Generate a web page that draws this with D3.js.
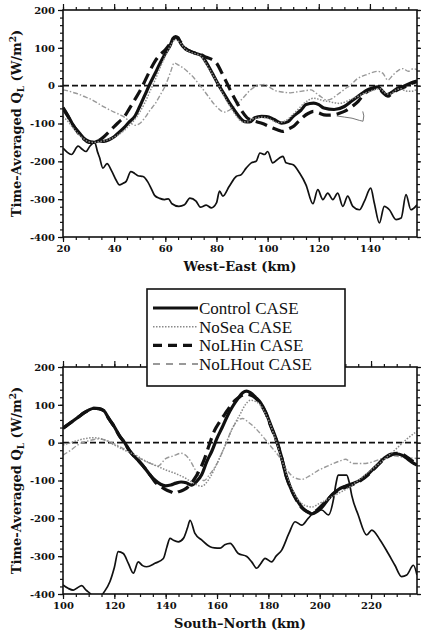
<!DOCTYPE html>
<html>
<head>
<meta charset="utf-8">
<title>time-averaged QL, west-east and south-north</title>
<script src="https://cdn.jsdelivr.net/npm/d3@7/dist/d3.min.js"></script>
<style>
    body { margin: 0; background: #fff; }
    .tick text { font-family: "DejaVu Serif", serif; font-weight: bold; font-size: 10px; fill: #111; }
    .tick line { stroke: #111; stroke-width: 1.2; }
    .lab { font-family: "DejaVu Serif", serif; font-weight: bold; font-size: 13px; fill: #111; text-anchor: middle; }
    .leg { font-family: "Liberation Serif", serif; font-size: 17px; fill: #111; }
</style>
</head>
<body>
<script>
// ---- West-East panel (km, W/m2) ----
var weControl = [[20,-58],[22,-80],[24,-105],[26,-122],[28,-138],[30,-147],[32,-150],[34,-146],[36,-147],[38,-143],[40,-135],[42,-123],[44,-110],[46,-95],[48,-82],[50,-55],[52,-25],[54,5],[56,32],[58,60],[60,85],[62,108],[63,125],[64,130],[65,127],[66,112],[68,96],[70,90],[72,85],[74,80],[75,72],[77,50],[79,25],[81,0],[83,-22],[85,-45],[87,-65],[89,-83],[91,-95],[93,-96],[95,-85],[97.6,-81],[99.5,-82],[101.5,-86],[103.5,-93],[105.4,-99],[108,-95],[110,-81],[113,-65],[115,-50],[118,-46],[120,-50],[122,-59],[126,-63],[130,-55],[133,-40],[135.4,-28],[137,-20],[139,-11],[141,-6],[143,-3],[145,-15],[146.5,-24],[148.5,-18],[151,-6],[153,-2],[156,7],[158.4,12]];
var weNoSea = [[20,-82],[22,-95],[24,-112],[26,-128],[28,-140],[30,-148],[32,-150],[34,-148],[36,-146],[38,-142],[40,-136],[42,-128],[44,-118],[46,-104],[48,-90],[50,-70],[52,-45],[54,-15],[56,15],[58,48],[60,78],[62,105],[64,122],[66,112],[68,96],[70,88],[72,84],[74,78],[76,58],[78,35],[80,12],[82,-15],[84,-40],[86,-62],[88,-82],[90,-95],[92,-96],[94,-88],[96,-85],[98,-83],[100,-86],[102,-92],[104,-98],[106,-96],[108,-88],[110,-76],[112,-62],[114,-48],[116,-38],[118,-33],[120,-36],[122,-40],[124,-42],[126,-45],[128,-47],[130,-44],[132,-38],[134,-32],[136,-26],[138,-20],[140,-15],[142,-10],[144,-8],[146,-20],[148,-22],[150,-12],[152,-8],[154,-14],[156,-15],[158.4,-10]];
var weNoLHin = [[20,-60],[22,-82],[24,-105],[26,-125],[28,-140],[30,-150],[32,-150],[34,-145],[36,-135],[38,-122],[40,-108],[42,-95],[44,-82],[46,-60],[48,-38],[50,-15],[52,12],[54,40],[56,65],[58,82],[60,95],[62,112],[64,128],[66,115],[68,98],[70,90],[72,86],[74,82],[76,75],[78,70],[80,60],[82,35],[84,8],[86,-20],[88,-45],[90,-68],[92,-85],[94,-92],[96,-96],[98,-100],[100,-106],[102,-112],[104,-117],[106,-121],[108,-115],[110,-108],[112,-95],[114,-82],[116,-73],[118,-68],[120,-72],[122,-77],[124,-78],[126,-77],[128,-73],[130,-68],[133,-55],[135.5,-41],[137,-28],[139,-15],[141,-9],[143,-6],[145,-18],[147,-28],[149,-18],[151,-10],[153,-5],[156,5],[158.4,11]];
var weNoLHout = [[20,-11],[22,-14],[24,-18],[26,-22],[28,-28],[30,-33],[32,-40],[34,-48],[36,-56],[38,-63],[40,-70],[42,-76],[44,-83],[46,-95],[48,-105],[50,-100],[52,-85],[54,-65],[56,-48],[58,-25],[60,0],[62,35],[63.5,60],[65,55],[67,47],[69,35],[71,22],[73,5],[75,-12],[77,-30],[79,-48],[81,-62],[83,-70],[85,-65],[87,-55],[89,-42],[91,-28],[93,-13],[95,-3],[97,2],[99,3],[101,-5],[103,-13],[105,-16],[107,-18],[109,-19],[111,-17],[113,-15],[115,-13],[117,-11],[119,-20],[121,-30],[123,-38],[125,-35],[127,-25],[129,-15],[131,-5],[133,5],[135,18],[137,25],[139,30],[141,35],[143,38],[145,33],[147,15],[149,28],[151,40],[153,45],[155,38],[157,45],[158.4,42]];
var weStub = [[127,-80],[130,-83],[133,-86],[136,-92],[137.3,-94],[137.6,-80],[137.2,-68]];
var weBelow = [[20,-165],[21.5,-175],[23.3,-182],[25.9,-160],[27.5,-168],[29,-174],[30.5,-160],[32.4,-150],[33.5,-175],[34.3,-190],[35.6,-218],[37.2,-206],[39,-225],[40.8,-250],[42,-262],[43.5,-258],[44.7,-253],[46.5,-227],[48,-232],[49.3,-238],[51.3,-240],[53.2,-255],[54.5,-272],[55.8,-290],[57.8,-298],[59.7,-301],[61.2,-299],[62.6,-312],[65.3,-319],[67.5,-315],[69.6,-297],[72,-305],[73.7,-321],[76,-316],[78,-323],[80,-310],[81.2,-279],[82.5,-292],[85,-266],[87.7,-240],[89.7,-235],[91.6,-218],[93.6,-204],[95.5,-200],[97,-178],[98.8,-182],[100,-174],[102,-204],[104.6,-191],[106,-187],[107.2,-204],[110,-209],[112.5,-231],[115,-262],[117.7,-312],[119.6,-275],[121.6,-301],[123.5,-284],[125.5,-301],[127.4,-284],[129.4,-319],[131.3,-292],[133.3,-319],[135.9,-328],[137.8,-306],[140.3,-271],[141.7,-310],[143.7,-363],[145.6,-319],[147.6,-328],[150.2,-354],[152.2,-350],[154.1,-288],[156,-328],[158.4,-315]];

// ---- South-North panel (km, W/m2) ----
var snControl = [[100,38],[102,48],[104,58],[106,68],[108,78],[110,86],[112,91],[114,90],[116,84],[118,62],[120,42],[122,18],[124,0],[126,-22],[128,-38],[130,-52],[132,-68],[134,-86],[136,-100],[138,-110],[140,-114],[142,-112],[144,-107],[146,-104],[148,-106],[150,-112],[152,-103],[154,-85],[156,-50],[158,-22],[160,12],[162,40],[164,70],[166,95],[168,115],[170,132],[171.5,136],[173,132],[175,120],[177,105],[179,80],[181,45],[183,10],[185,-35],[187,-90],[189,-125],[191,-150],[193,-170],[195,-182],[197,-188],[199,-182],[201,-170],[203,-152],[205,-136],[207,-125],[210,-115],[213,-108],[216,-98],[219,-82],[222,-62],[225,-42],[228,-30],[230,-30],[232,-33],[234,-42],[236,-52],[237.9,-59]];
var snNoSea = [[100,-6],[104,2],[108,10],[112,13],[116,8],[120,-6],[124,-20],[128,-32],[132,-48],[136,-60],[140,-72],[144,-82],[148,-95],[151,-108],[154,-115],[157,-95],[160,-55],[163,-10],[166,38],[169,75],[171,100],[173,112],[176,105],[179,75],[182,25],[185,-40],[188,-100],[191,-145],[194,-165],[197,-170],[200,-160],[203,-150],[207,-135],[211,-120],[215,-100],[220,-72],[225,-45],[230,-15],[234,10],[237.9,30]];
var snNoLHin = [[100,38],[102,48],[104,58],[106,68],[108,78],[110,86],[112,91],[114,90],[116,84],[118,62],[120,42],[122,18],[124,0],[126,-22],[128,-38],[130,-52],[132,-68],[134,-86],[136,-105],[138,-115],[140,-124],[142,-130],[143.6,-134],[145,-130],[147,-125],[149,-115],[151,-98],[153,-75],[155,-45],[157,-5],[159,32],[161,55],[163,75],[165,95],[167,112],[169,122],[171,128],[173,126],[175,118],[177,102],[179,78],[181,42],[183,8],[185,-35],[187,-88],[189,-125],[191,-152],[193,-172],[195,-182],[197,-186],[199,-178],[201,-165],[203,-150],[205,-138],[207,-127],[210,-118],[213,-110],[216,-100],[219,-84],[222,-64],[225,-44],[228,-32],[230,-28],[232,-30],[234,-38],[236,-48],[237.9,-55]];
var snNoLHout = [[100,-33],[103,-20],[106,-5],[110,5],[114,10],[118,3],[122,-10],[126,-25],[130,-42],[134,-55],[137,-62],[140,-42],[143,-35],[146,-28],[149,-42],[151,-65],[153,-90],[155,-100],[157,-85],[160,-55],[163,-10],[166,38],[168,58],[170,64],[172,55],[175,38],[178,15],[181,-10],[184,-35],[187,-70],[190,-92],[193,-97],[196,-88],[199,-75],[202,-65],[205,-56],[208,-48],[210,-44],[213,-55],[217,-55],[220,-52],[223,-45],[226,-38],[229,-35],[232,-38],[235,-40],[237.9,-42]];
var snBelow = [[100,-376],[102,-385],[104,-390],[105.5,-384],[107.3,-378],[109,-390],[110.5,-398],[112,-410],[114,-410],[116,-395],[118.3,-367],[120,-330],[121.5,-288],[123.5,-293],[125.5,-320],[127.4,-345],[129.3,-315],[131,-325],[132.6,-328],[135.8,-319],[139.1,-306],[140.5,-275],[141.7,-253],[143,-258],[144.9,-262],[146.9,-253],[148.5,-225],[149.5,-205],[151.4,-240],[154,-257],[157.3,-275],[159,-278],[161.2,-279],[163,-270],[165.1,-266],[168.3,-293],[171.6,-301],[173.5,-315],[175.5,-332],[177,-320],[178.7,-306],[181.3,-315],[183,-300],[185.2,-284],[188,-240],[190.4,-209],[193,-218],[195.5,-200],[198.2,-182],[200.8,-178],[203.4,-191],[205.3,-152],[206.3,-110],[207.2,-86],[210.5,-86],[211.5,-105],[212.5,-140],[215,-191],[218.3,-244],[220.3,-231],[223.5,-257],[226.7,-293],[229.3,-324],[231.9,-354],[233.9,-350],[236.5,-324],[237.9,-350]];

var yMajor = [200, 100, 0, -100, -200, -300, -400];
var weTicks = [20, 40, 60, 80, 100, 120, 140];
var snTicks = [100, 120, 140, 160, 180, 200, 220];
var legendNames = ['Control CASE', 'NoSea CASE', 'NoLHin CASE', 'NoLHout CASE'];

var styles = {
    control: { color: '#111', width: 3.2, dash: null },
    noSea:   { color: '#8a8a8a', width: 1.5, dash: '1.5,1.5' },
    noLHin:  { color: '#111', width: 3.2, dash: '12,6' },
    noLHout: { color: '#999', width: 1.4, dash: '5,2,1.5,2' },
    below:   { color: '#111', width: 1.7, dash: null },
    stub:    { color: '#777', width: 1, dash: null }
};

var svg = d3.select('body').append('svg')
    .attr('width', 421)
    .attr('height', 631);

function panel(p) {
    var x = d3.scaleLinear().domain(p.xdom).range([63, 417]);
    var y = d3.scaleLinear().domain([-400, 200]).range([p.bottom, p.top]);
    var g = svg.append('g');

    var clipId = 'clip' + p.id;
    g.append('clipPath').attr('id', clipId)
        .append('rect')
        .attr('x', 63).attr('y', p.top)
        .attr('width', 354).attr('height', p.bottom - p.top);

    var minorX = d3.range(p.xdom[0], p.xdom[1], 5);
    var minorY = d3.range(-400, 201, 20);

    function ax(gen, scale, vals, size, labels, tr) {
        var a = gen(scale).tickValues(vals).tickSize(size).tickSizeOuter(0).tickPadding(3);
        if (labels) a.tickFormat(function(d) { return String(d); });
        else a.tickFormat('');
        var s = g.append('g').attr('transform', tr).call(a);
        s.select('.domain').remove();
        return s;
    }
    // minor + major ticks, outward on all four sides
    ax(d3.axisLeft, y, minorY, 3, false, 'translate(63,0)');
    ax(d3.axisLeft, y, yMajor, 5, true, 'translate(63,0)');
    ax(d3.axisRight, y, minorY, 3, false, 'translate(417,0)');
    ax(d3.axisRight, y, yMajor, 5, false, 'translate(417,0)');
    ax(d3.axisTop, x, minorX, 3, false, 'translate(0,' + p.top + ')');
    ax(d3.axisTop, x, p.ticks, 6, false, 'translate(0,' + p.top + ')');
    ax(d3.axisBottom, x, minorX, 3, false, 'translate(0,' + p.bottom + ')');
    ax(d3.axisBottom, x, p.ticks, 5, true, 'translate(0,' + p.bottom + ')');

    // zero line
    g.append('line')
        .attr('x1', 63).attr('x2', 417)
        .attr('y1', y(0)).attr('y2', y(0))
        .style('stroke', '#111').style('stroke-width', 1.6)
        .style('stroke-dasharray', '6,3');

    var line = d3.line()
        .x(function(d) { return x(d[0]); })
        .y(function(d) { return y(d[1]); })
        .curve(d3.curveMonotoneX);

    var lines = g.append('g').attr('clip-path', 'url(#' + clipId + ')');
    p.series.forEach(function(s) {
        var st = styles[s.style];
        lines.append('path')
            .datum(s.data)
            .attr('d', s.style === 'stub' ? d3.line().x(function(d) { return x(d[0]); }).y(function(d) { return y(d[1]); }) : line)
            .style('fill', 'none')
            .style('stroke', st.color)
            .style('stroke-width', st.width)
            .style('stroke-dasharray', st.dash)
            .style('stroke-linejoin', 'round');
    });

    // frame
    g.append('rect')
        .attr('x', 63).attr('y', p.top)
        .attr('width', 354).attr('height', p.bottom - p.top)
        .style('fill', 'none').style('stroke', '#111').style('stroke-width', 1.6);

    g.append('text').attr('class', 'lab')
        .attr('x', 240).attr('y', p.bottom + 34)
        .text(p.xlabel);

    var yl = g.append('text').attr('class', 'lab')
        .attr('transform', 'translate(21,' + ((p.top + p.bottom) / 2) + ') rotate(-90)');
    yl.append('tspan').text('Time-Averaged Q');
    yl.append('tspan').attr('dy', 3).style('font-size', '9px').text('L');
    yl.append('tspan').attr('dy', -3).text(' (W/m');
    yl.append('tspan').attr('dy', -5).style('font-size', '9px').text('2');
    yl.append('tspan').attr('dy', 5).text(')');
}

panel({
    id: 'we', top: 10, bottom: 237, xdom: [20, 158.4], ticks: weTicks,
    xlabel: 'West\u2013East (km)',
    series: [
        { data: weBelow, style: 'below' },
        { data: weStub, style: 'stub' },
        { data: weNoLHout, style: 'noLHout' },
        { data: weControl, style: 'control' },
        { data: weNoLHin, style: 'noLHin' },
        { data: weNoSea, style: 'noSea' }
    ]
});

panel({
    id: 'sn', top: 367, bottom: 594, xdom: [100, 237.9], ticks: snTicks,
    xlabel: 'South\u2013North (km)',
    series: [
        { data: snBelow, style: 'below' },
        { data: snNoLHout, style: 'noLHout' },
        { data: snControl, style: 'control' },
        { data: snNoLHin, style: 'noLHin' },
        { data: snNoSea, style: 'noSea' }
    ]
});

// legend box, sits over the top edge of the lower panel
var leg = svg.append('g');
leg.append('rect')
    .attr('x', 147).attr('y', 289)
    .attr('width', 198).attr('height', 97)
    .style('fill', '#fff').style('stroke', '#111').style('stroke-width', 1.6);

var legStyles = ['control', 'noSea', 'noLHin', 'noLHout'];
var ly = d3.scalePoint().domain(legendNames).range([308, 364]);
legendNames.forEach(function(name, i) {
    var st = styles[legStyles[i]];
    leg.append('line')
        .attr('x1', 153).attr('x2', 198)
        .attr('y1', ly(name)).attr('y2', ly(name))
        .style('stroke', st.color)
        .style('stroke-width', legStyles[i] === 'noLHout' ? 2 : st.width)
        .style('stroke-dasharray', legStyles[i] === 'noLHout' ? '7,6' : (legStyles[i] === 'noLHin' ? '9,6' : st.dash));
    leg.append('text').attr('class', 'leg')
        .attr('x', 199).attr('y', ly(name) + 6)
        .text(name);
});
</script>
</body>
</html>
